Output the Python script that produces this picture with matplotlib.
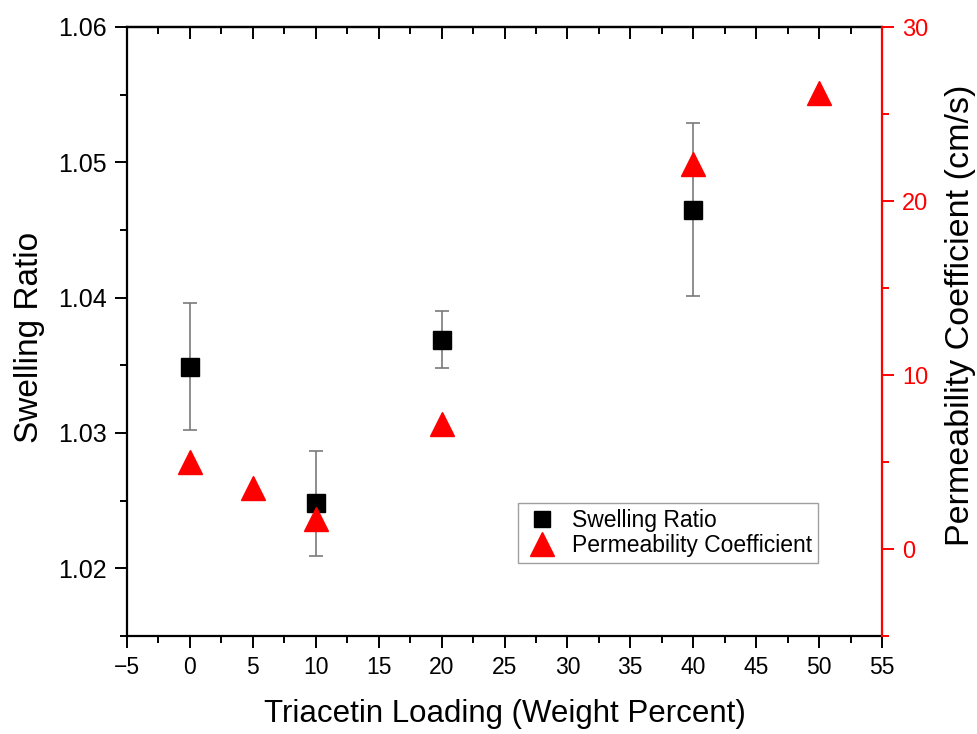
import numpy as np
import matplotlib.pyplot as plt
from matplotlib.ticker import MultipleLocator
from matplotlib.lines import Line2D

plt.rcParams['font.family'] = ['Liberation Sans', 'DejaVu Sans']

# Данные
loading_sw = [0, 10, 20, 40]
swelling = [1.0349, 1.0248, 1.0369, 1.0465]
swelling_err = [0.0047, 0.0039, 0.0021, 0.0064]

loading_perm = [0, 5, 10, 20, 40, 50]
permeability = [5.0, 3.5, 1.7, 7.2, 22.1, 26.2]

fig = plt.figure(figsize=(9.77, 7.34), dpi=100)
ax = fig.add_axes([127 / 977, 1 - 636 / 734, 755 / 977, 609 / 734])
ax2 = ax.twinx()

# Коэффициент набухания с погрешностями
ax.errorbar(loading_sw, swelling, yerr=swelling_err, fmt='s', color='black',
            ms=13, ecolor='#7a7a7a', elinewidth=1.2, capsize=5, capthick=1.2,
            zorder=3)

# Коэффициент проницаемости
ax2.plot(loading_perm, permeability, '^', color='red', ms=17, mec='red',
         linestyle='none', zorder=3)

ax.set_xlim(-5, 55)
ax.set_ylim(1.015, 1.06)
ax2.set_ylim(-5, 30)

ax.xaxis.set_major_locator(MultipleLocator(5))
ax.xaxis.set_minor_locator(MultipleLocator(2.5))
ax.yaxis.set_major_locator(MultipleLocator(0.01))
ax.yaxis.set_minor_locator(MultipleLocator(0.005))
ax2.yaxis.set_major_locator(MultipleLocator(10))
ax2.yaxis.set_minor_locator(MultipleLocator(5))

ax.set_yticks([1.02, 1.03, 1.04, 1.05, 1.06])
ax.set_yticklabels(['1.02', '1.03', '1.04', '1.05', '1.06'])
ax.set_xticks(np.arange(-5, 56, 5))
ax.set_xticklabels(['\u22125'] + [str(v) for v in range(0, 56, 5)])
ax2.set_yticks([0, 10, 20, 30])

for sp in ['left', 'bottom', 'top']:
    ax.spines[sp].set_linewidth(1.6)
ax.spines['right'].set_visible(False)
for sp in ['left', 'bottom', 'top']:
    ax2.spines[sp].set_visible(False)
ax2.spines['right'].set_color('red')
ax2.spines['right'].set_linewidth(1.6)

ax.tick_params(axis='x', which='major', direction='out', length=8.5, width=1.4,
               labelsize=16.5, pad=6)
ax.tick_params(axis='x', which='minor', direction='out', length=5, width=1.4)
ax.tick_params(axis='y', which='major', direction='out', length=8.5, width=1.4,
               labelsize=18, pad=6)
ax.tick_params(axis='y', which='minor', direction='out', length=5, width=1.4)
ax2.tick_params(axis='y', which='major', direction='out', length=8.5, width=1.4,
                labelsize=17, pad=6, colors='red')
ax2.tick_params(axis='y', which='minor', direction='out', length=5, width=1.4,
                colors='red')

# Верхние засечки внутрь
top = ax.secondary_xaxis('top')
top.xaxis.set_major_locator(MultipleLocator(5))
top.xaxis.set_minor_locator(MultipleLocator(2.5))
top.tick_params(axis='x', which='major', direction='in', length=8.5, width=1.4,
                labeltop=False)
top.tick_params(axis='x', which='minor', direction='in', length=5, width=1.4)
top.spines['top'].set_linewidth(1.6)

ax.set_xlabel('Triacetin Loading (Weight Percent)', fontsize=22.5, labelpad=14)
ax.set_ylabel('Swelling Ratio', fontsize=24)
ax2.set_ylabel('Permeability Coefficient (cm/s)', fontsize=24.5)
ax.yaxis.set_label_coords(-0.109, 0.49)
ax2.yaxis.set_label_coords(1.084, 0.527)

handles = [
    Line2D([], [], marker='s', color='black', ms=12, linestyle='none'),
    Line2D([], [], marker='^', color='red', ms=17, linestyle='none'),
]
leg = ax2.legend(handles, ['Swelling Ratio', 'Permeability Coefficient'],
                 loc='lower left', bbox_to_anchor=(0.518, 0.12),
                 fontsize=16.5, frameon=True, fancybox=False,
                 borderaxespad=0, handletextpad=0.5, borderpad=0.25,
                 labelspacing=0.1, handlelength=1.6)
leg.get_frame().set_edgecolor('#888888')
leg.get_frame().set_linewidth(1.0)

plt.savefig('out.png', dpi=100)
